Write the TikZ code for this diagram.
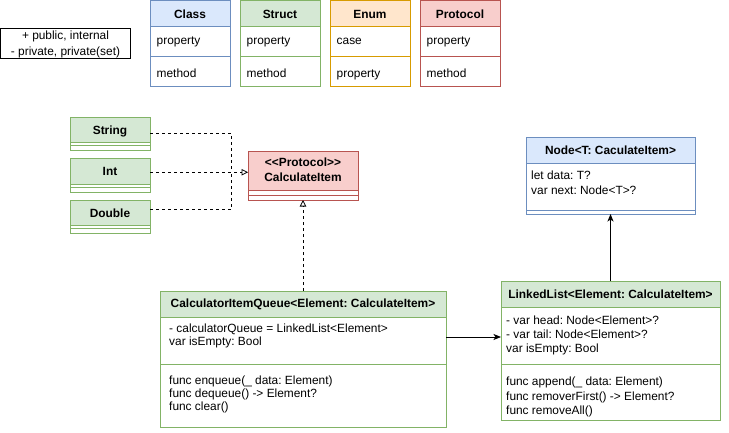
\documentclass[tikz,border=0pt]{standalone}
\usepackage{fontspec}
\setmainfont{Liberation Sans}
\usetikzlibrary{arrows.meta,calc}
\definecolor{blueF}{HTML}{DAE8FC}\definecolor{blueD}{HTML}{6C8EBF}
\definecolor{greenF}{HTML}{D5E8D4}\definecolor{greenD}{HTML}{82B366}
\definecolor{orangeF}{HTML}{FFE6CC}\definecolor{orangeD}{HTML}{D79B00}
\definecolor{redF}{HTML}{F8CECC}\definecolor{redD}{HTML}{B85450}
\begin{document}
\frenchspacing
\begin{tikzpicture}[x=1pt,y=-1pt,
  cbox/.style={draw, line width=0.9pt, inner sep=0pt, outer sep=0pt, anchor=north west},
  txt/.style={inner sep=0pt, anchor=base west, font=\fontsize{11.9}{14}\selectfont},
  ctxt/.style={inner sep=0pt, anchor=base, font=\fontsize{11.9}{14}\selectfont},
  btxt/.style={inner sep=0pt, anchor=base, font=\fontsize{11.9}{14}\selectfont\bfseries},
  dsh/.style={line width=0.8pt, dash pattern=on 3pt off 3pt},
  real/.style={-{Triangle[open,length=6.5pt,width=6.5pt]}},
  assoc/.style={line width=0.8pt, -{Stealth[length=7.5pt,width=6pt,inset=2pt]}}]
\useasboundingbox (0,0) rectangle (729,432);
% legend
\node[cbox, minimum width=130pt, minimum height=30pt] (leg) at (0.5,28) {};
\node[ctxt] (leg1) at (65.5,39.3) {+ public, internal};
\node[ctxt] (leg2) at (65.5,55) {- private, private(set)};
% kind boxes
\foreach \x/\n/\f/\d/\h/\a/\b in {150/cls/blueF/blueD/Class/property/method,
  240/str/greenF/greenD/Struct/property/method,
  330/enm/orangeF/orangeD/Enum/case/property,
  420/prt/redF/redD/Protocol/property/method}{
  \node[cbox, fill=\f, draw=\d, minimum width=80pt, minimum height=26pt] (\n H) at (\x,0.5) {};
  \node[cbox, draw=\d, minimum width=80pt, minimum height=30pt] (\n P) at (\n H.south west) {};
  \node[cbox, draw=\d, minimum width=80pt, minimum height=30pt] (\n M) at (\n P.south west) {};
  \node[btxt] (\n T) at ($(\x,18)+(40,0)$) {\h};
  \node[txt] (\n A) at ($(\x,44)+(6.5,0)$) {\a};
  \node[txt] (\n B) at ($(\x,77.5)+(6.5,0)$) {\b};
}
% String, Int, Double
\foreach \y/\n/\t in {117/sT/String, 158.5/iT/Int, 200/dT/Double}{
  \node[cbox, fill=greenF, draw=greenD, minimum width=80pt, minimum height=25.5pt] (\n H) at (70,\y) {};
  \node[cbox, draw=greenD, minimum width=80pt, minimum height=3pt] (\n S) at (\n H.south west) {};
  \node[cbox, draw=greenD, minimum width=80pt, minimum height=5pt] (\n B) at (\n S.south west) {};
  \node[btxt] (\n L) at ($(110,\y)+(0,17.2)$) {\t};
}
% CalculateItem
\node[cbox, fill=redF, draw=redD, minimum width=110pt, minimum height=39pt] (ciH) at (248,151) {};
\node[cbox, draw=redD, minimum width=110pt, minimum height=5pt] (ciS) at (ciH.south west) {};
\node[cbox, draw=redD, minimum width=110pt, minimum height=5pt] (ciB) at (ciS.south west) {};
\node[btxt] (ci1) at (303,166.7) {<\kern0pt<Protocol>\kern0pt>};
\node[btxt] (ci2) at (303,181.7) {CalculateItem};
% Node<T>
\node[cbox, fill=blueF, draw=blueD, minimum width=169pt, minimum height=26pt] (ndH) at (526,137) {};
\node[cbox, draw=blueD, minimum width=169pt, minimum height=47pt] (ndA) at (ndH.south west) {};
\node[cbox, draw=blueD, minimum width=169pt, minimum height=4pt] (ndB) at (ndA.south west) {};
\node[btxt] (ndT) at (610.5,154) {Node<T: CaculateItem>};
\node[txt] (nd1) at (531,179) {let data: T?};
\node[txt] (nd2) at (531,194) {var next: Node<T>?};
% LinkedList
\node[cbox, fill=greenF, draw=greenD, minimum width=219pt, minimum height=26pt] (llH) at (501,281) {};
\node[cbox, draw=greenD, minimum width=219pt, minimum height=57pt] (llA) at (llH.south west) {};
\node[cbox, draw=greenD, minimum width=219pt, minimum height=56pt] (llM) at (llA.south west) {};
\node[btxt] (llT) at (610.5,298) {LinkedList<Element: CalculateItem>};
\node[txt] (ll1) at (506,324) {- var head: Node<Element>?};
\node[txt] (ll2) at (506,338.3) {- var tail: Node<Element>?};
\node[txt] (ll3) at (506,352.3) {var isEmpty: Bool};
\node[txt] (ll4) at (506,385) {func append(\_ data: Element)};
\node[txt] (ll5) at (506,400) {func removerFirst() -> Element?};
\node[txt] (ll6) at (506,414) {func removeAll()};
% CalculatorItemQueue
\node[cbox, fill=greenF, draw=greenD, minimum width=286pt, minimum height=26pt] (qH) at (160,291) {};
\node[cbox, draw=greenD, minimum width=286pt, minimum height=47pt] (qA) at (qH.south west) {};
\node[cbox, draw=greenD, minimum width=286pt, minimum height=63pt] (qM) at (qA.south west) {};
\node[btxt] (qT) at (303,307) {CalculatorItemQueue<Element: CalculateItem>};
\node[txt] (q1) at (169,332.7) {- calculatorQueue = LinkedList<Element>};
\node[txt] (q2) at (169,345.7) {var isEmpty: Bool};
\node[txt] (q3) at (169,384) {func enqueue(\_ data: Element)};
\node[txt] (q4) at (169,397.7) {func dequeue() -> Element?};
\node[txt] (q5) at (169,410.7) {func clear()};
% connectors
\coordinate (jn) at (231,172);
\draw[dsh] ([yshift=-3.5pt]sTH.east) -| (jn);
\draw[dsh] ([yshift=3pt]dTH.east) -| (jn);
\draw[dsh, real] ([yshift=-1pt]iTH.east) -- ([yshift=-1pt]iTH.east -| ciH.west);
\draw[dsh, real] (qH.north) -- (ciB.south);
\draw[assoc] ([yshift=3.5pt]qA.east) -- ([yshift=3.5pt]qA.east -| llA.west);
\draw[assoc] (llH.north) -- (ndB.south);
\end{tikzpicture}
\end{document}
